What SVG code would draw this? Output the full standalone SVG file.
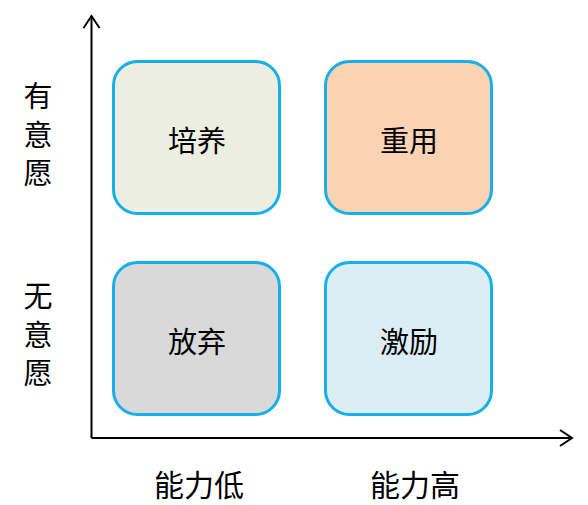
<svg xmlns="http://www.w3.org/2000/svg" width="588" height="505" viewBox="0 0 588 505">
<style>
.box{stroke:#16AFE8;stroke-width:3}
.t{font-family:"Noto Sans CJK SC","Noto Sans",sans-serif;font-size:29px;fill:#000;text-anchor:middle;dominant-baseline:central}
.ax{stroke:#000;stroke-width:2;fill:none}
</style>
<rect width="588" height="505" fill="#fff"/>
<g id="axes">
<line class="ax" x1="91.5" y1="438" x2="91.5" y2="16"/>
<polyline class="ax" points="83.5,28 91.5,16 99.5,28"/>
<line class="ax" x1="91.5" y1="438" x2="572" y2="438"/>
<polyline class="ax" points="560,430 572,438 560,446"/>
</g>
<g id="n1"><rect class="box" x="113.5" y="61.5" width="166" height="152" rx="24" fill="#EBEEE0"/><text class="t" x="197" y="139">培养</text></g>
<g id="n2"><rect class="box" x="325.5" y="61.5" width="166" height="152" rx="24" fill="#FAD3B5"/><text class="t" x="409" y="139">重用</text></g>
<g id="n3"><rect class="box" x="113.5" y="262.5" width="166" height="152" rx="24" fill="#D9D9D9"/><text class="t" x="197" y="340">放弃</text></g>
<g id="n4"><rect class="box" x="325.5" y="262.5" width="166" height="152" rx="24" fill="#DCEEF4"/><text class="t" x="409" y="340">激励</text></g>
<g id="labels">
<text class="t" x="38" y="94">有</text>
<text class="t" x="38" y="133">意</text>
<text class="t" x="38" y="171">愿</text>
<text class="t" x="38" y="294">无</text>
<text class="t" x="38" y="333">意</text>
<text class="t" x="38" y="371">愿</text>
<text class="t" x="199" y="483" style="font-size:30px">能力低</text>
<text class="t" x="415" y="483" style="font-size:30px">能力高</text>
</g>
</svg>
